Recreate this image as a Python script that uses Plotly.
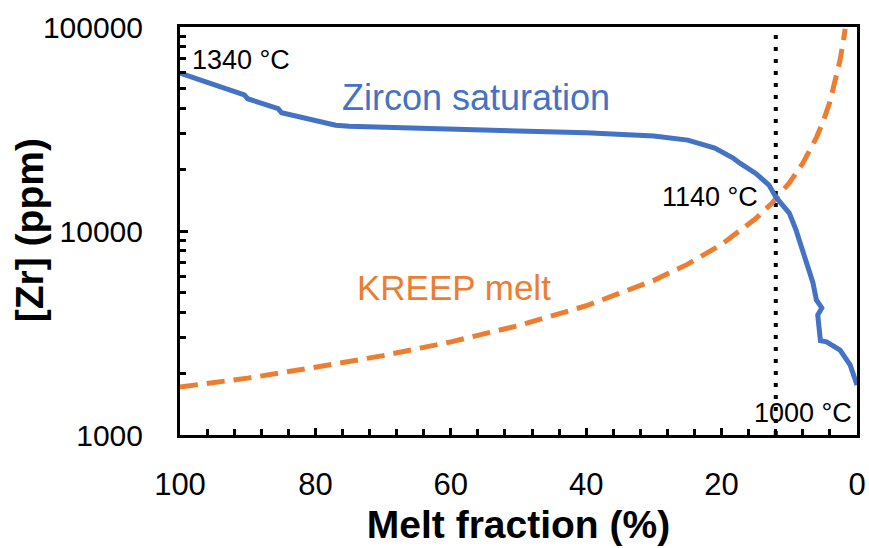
import plotly.graph_objects as go

# Zircon saturation curve (melt fraction %, Zr ppm)
zircon_f = [100, 95, 90.5, 90.0, 85.5, 85.0, 80, 77, 75, 70, 60, 50, 40, 30, 25, 21, 18.3,
            17.3, 15, 13, 12, 11, 10, 9, 8, 7, 6.5, 6.0, 5.2, 5.8, 5.6, 5.4, 4.5, 2.5, 1.0, 0]
zircon_zr = [59500, 52000, 46500, 44500, 39800, 38000, 34500, 33000, 32600, 32300, 31700, 31100,
             30300, 29200, 27900, 25500, 22800, 21500, 19200, 16800, 14700, 13400, 12250, 10100,
             8070, 6440, 5560, 4590, 4200, 3870, 3020, 2900, 2860, 2610, 2200, 1760]

# KREEP melt curve (melt fraction %, Zr ppm)
kreep_f = [100, 90, 80, 70, 60, 50, 40, 30, 25, 20, 15, 12.5, 10, 8, 6, 5, 4, 3, 2.5, 2, 1.75]
kreep_zr = [1720, 1900, 2150, 2450, 2860, 3440, 4300, 5730, 6880, 8600, 11470, 13760, 17200,
            21500, 28700, 34400, 43000, 57300, 68800, 86000, 98000]

# Vertical marker at 1140 °C
marker_f = 12.0
y_range = [1000, 100000]

x_ticks = [100, 80, 60, 40, 20, 0]
y_ticks = [1000, 10000, 100000]
y_ticktext = ["1000", "10000", "100000"]

BLUE = "#4472C4"
ORANGE = "#ED7D31"
FONT = "Liberation Sans, Arial, sans-serif"

fig = go.Figure()
fig.add_trace(go.Scatter(x=[marker_f, marker_f], y=y_range, mode="lines",
                         line=dict(color="black", width=4, dash="4px,8px"),
                         showlegend=False, hoverinfo="skip"))
fig.add_trace(go.Scatter(x=kreep_f, y=kreep_zr, mode="lines",
                         line=dict(color=ORANGE, width=5, dash="18px,9px"),
                         showlegend=False, name="KREEP melt"))
fig.add_trace(go.Scatter(x=zircon_f, y=zircon_zr, mode="lines",
                         line=dict(color=BLUE, width=5),
                         showlegend=False, name="Zircon saturation"))

fig.update_layout(
    width=869, height=548,
    margin=dict(l=180, r=12, t=27, b=113),
    paper_bgcolor="white", plot_bgcolor="white",
    font=dict(family=FONT, color="black"),
    xaxis=dict(
        range=[100, 0], tickvals=x_ticks, ticks="inside", ticklen=7, tickwidth=2.5,
        tickcolor="black", showline=True, linecolor="black", linewidth=3, mirror=True,
        showgrid=False, zeroline=False, tickfont=dict(size=31), ticklabelstandoff=20,
        automargin=False,
        minor=dict(dtick=4, ticks="inside", ticklen=6, tickwidth=2.5, tickcolor="black", showgrid=False),
        title=dict(text="<b>Melt fraction (%)</b>", font=dict(size=39), standoff=10),
    ),
    yaxis=dict(
        type="log", range=[3, 5], tickvals=y_ticks, ticktext=y_ticktext,
        ticks="inside", ticklen=8, tickwidth=2.5, tickcolor="black",
        showline=True, linecolor="black", linewidth=3, mirror=True,
        showgrid=False, zeroline=False, tickfont=dict(size=30), ticklabelstandoff=28,
        automargin=False,
        minor=dict(dtick="D1", ticks="inside", ticklen=6, tickwidth=2.5, tickcolor="black", showgrid=False),
    ),
    annotations=[
        dict(x=-0.223, y=0.502, xref="paper", yref="paper", text="<b>[Zr] (ppm)</b>",
             textangle=-90, showarrow=False, xanchor="center", yanchor="middle",
             font=dict(size=39, color="black")),
        dict(x=98.5, y=4.838, xref="x", yref="y", text="1340 °C", showarrow=False,
             xanchor="left", yanchor="middle", font=dict(size=27, color="black")),
        dict(x=14.3, y=4.167, xref="x", yref="y", text="1140 °C", showarrow=False,
             xanchor="right", yanchor="middle", font=dict(size=27, color="black")),
        dict(x=15.5, y=3.108, xref="x", yref="y", text="1000 °C", showarrow=False,
             xanchor="left", yanchor="middle", font=dict(size=27, color="black")),
        dict(x=56.3, y=4.652, xref="x", yref="y", text="Zircon saturation", showarrow=False,
             xanchor="center", yanchor="middle", font=dict(size=36, color=BLUE)),
        dict(x=59.5, y=3.721, xref="x", yref="y", text="KREEP melt", showarrow=False,
             xanchor="center", yanchor="middle", font=dict(size=35, color=ORANGE)),
    ],
)

fig.write_html("out.html")
